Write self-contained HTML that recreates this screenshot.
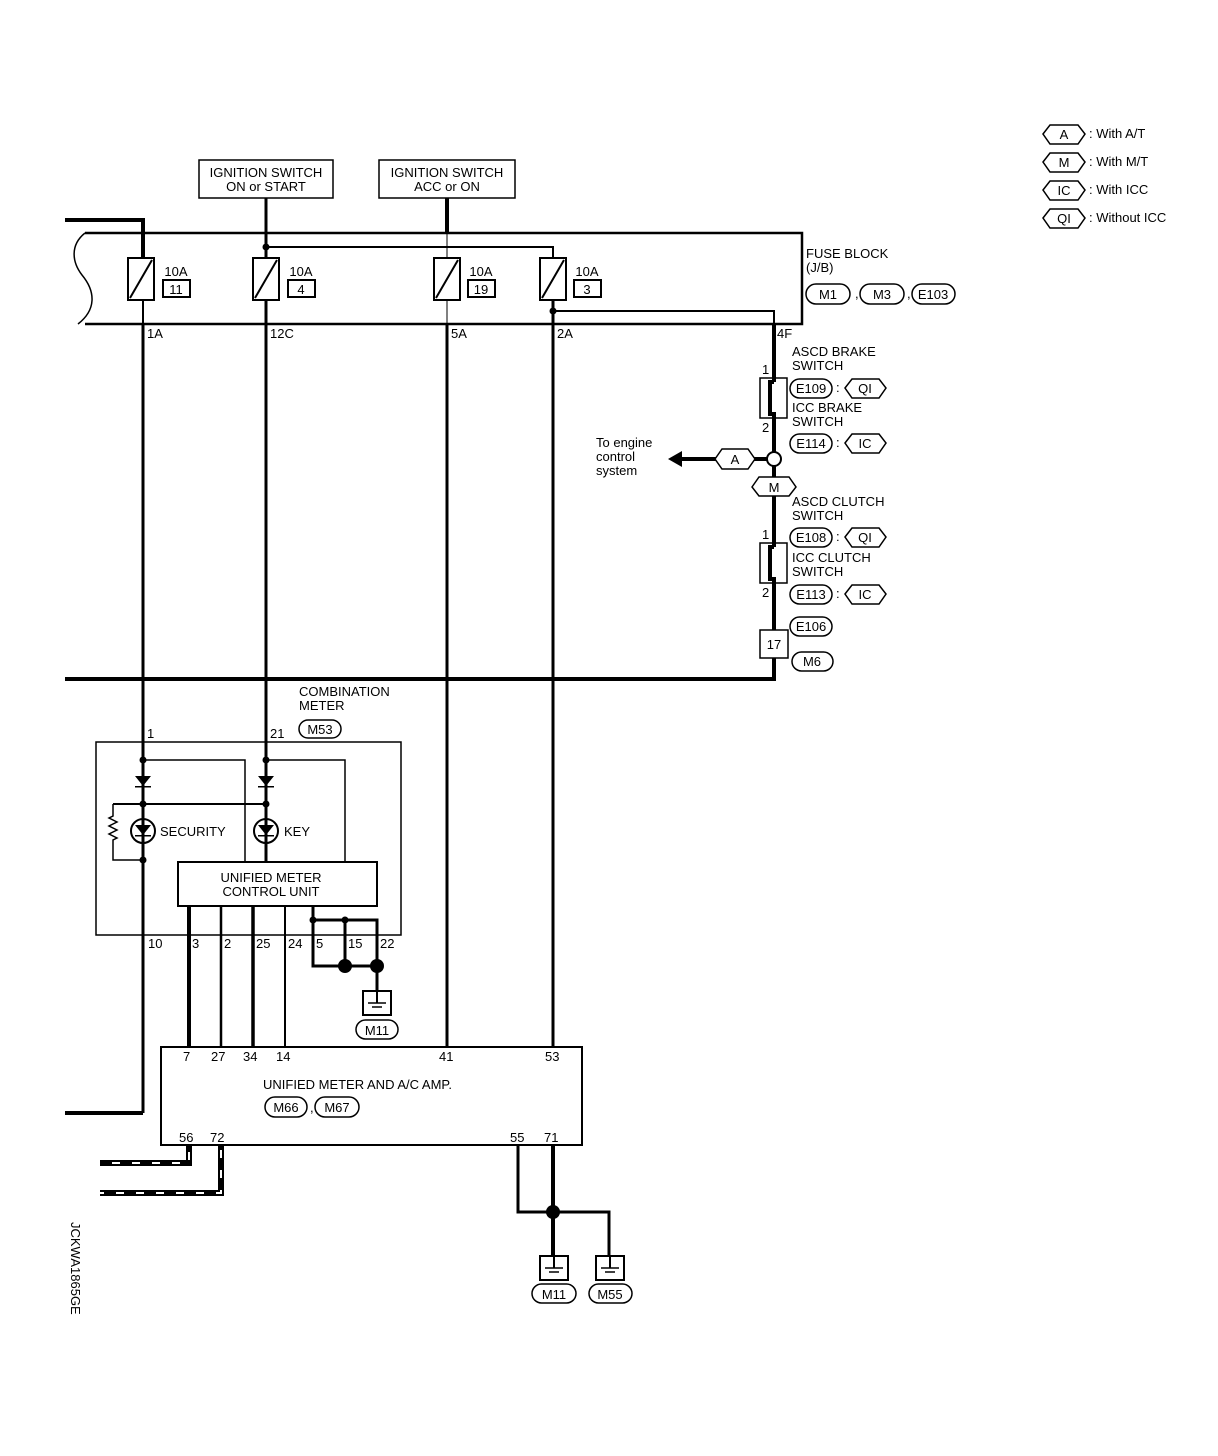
<!DOCTYPE html>
<html><head><meta charset="utf-8"><style>
html,body{margin:0;padding:0;background:#fff}
svg{display:block}
text{font-family:"Liberation Sans",sans-serif;font-size:13px;fill:#000}
</style></head><body>
<svg width="1218" height="1456" viewBox="0 0 1218 1456" xmlns="http://www.w3.org/2000/svg">
<defs>
<symbol id="gnd" viewBox="0 0 30 26"><rect x="1" y="1" width="28" height="24" fill="#fff" stroke="#000" stroke-width="2"/><line x1="15" y1="1" x2="15" y2="13" stroke="#000" stroke-width="2"/><line x1="6" y1="13" x2="24" y2="13" stroke="#000" stroke-width="1.5"/><line x1="10" y1="17" x2="20" y2="17" stroke="#000" stroke-width="1.5"/></symbol>
</defs>
<g fill="none" stroke="#000">
<!-- ignition boxes -->
<rect x="199" y="160" width="134" height="38" stroke-width="1.5"/>
<rect x="379" y="160" width="136" height="38" stroke-width="1.5"/>
<!-- fuse block -->
<path d="M85,233 H802 V324 H85" stroke-width="2.5"/>
<path d="M85,233 C70,245 72,262 82,275 C96,292 96,310 78,324" stroke-width="1.5"/>
<!-- wires top -->
<path d="M65,220 H143 V258" stroke-width="4"/>
<line x1="266" y1="198" x2="266" y2="258" stroke-width="3"/>
<path d="M266,247 H553 V258" stroke-width="2"/>
<line x1="447" y1="198" x2="447" y2="233" stroke-width="4"/>
<line x1="447" y1="233" x2="447" y2="258" stroke-width="1"/>
<line x1="447" y1="300" x2="447" y2="324" stroke-width="1"/>
<line x1="143" y1="300" x2="143" y2="324" stroke-width="2"/>
<line x1="266" y1="300" x2="266" y2="324" stroke-width="3"/>
<line x1="553" y1="300" x2="553" y2="324" stroke-width="3"/>
<path d="M553,311 H774 V324" stroke-width="2"/>
<!-- fuses -->
<g stroke-width="2">
<rect x="128" y="258" width="26" height="42"/><line x1="130" y1="298" x2="152" y2="260"/>
<rect x="253" y="258" width="26" height="42"/><line x1="255" y1="298" x2="277" y2="260"/>
<rect x="434" y="258" width="26" height="42"/><line x1="436" y1="298" x2="458" y2="260"/>
<rect x="540" y="258" width="26" height="42"/><line x1="542" y1="298" x2="564" y2="260"/>
<rect x="163" y="280" width="27" height="17"/><rect x="288" y="280" width="27" height="17"/>
<rect x="468" y="280" width="27" height="17"/><rect x="574" y="280" width="27" height="17"/>
</g>
<!-- long verticals -->
<line x1="143" y1="324" x2="143" y2="1113" stroke-width="3"/>
<path d="M143,1113 H65" stroke-width="4"/>
<line x1="266" y1="324" x2="266" y2="862" stroke-width="3"/>
<line x1="447" y1="324" x2="447" y2="1047" stroke-width="3"/>
<line x1="553" y1="324" x2="553" y2="1047" stroke-width="3"/>
<!-- right branch -->
<line x1="774" y1="324" x2="774" y2="630" stroke-width="4"/>
<path d="M774,658 V679 H65" stroke-width="4"/>
<rect x="760" y="378" width="27" height="40" fill="#fff" stroke-width="1.5"/>
<path d="M774,378 V382 M774,382 H770 V414 H774 V418" stroke-width="4"/>
<rect x="760" y="543" width="27" height="40" fill="#fff" stroke-width="1.5"/>
<path d="M774,543 V547 M774,547 H770 V579 H774 V583" stroke-width="4"/>
<rect x="760" y="630" width="28" height="28" fill="#fff" stroke-width="1.5"/>
<line x1="682" y1="459" x2="767" y2="459" stroke-width="4"/>
<circle cx="774" cy="459" r="7" fill="#fff" stroke-width="2"/>
<polygon points="715,459 722,449 748,449 755,459 748,469 722,469" fill="#fff" stroke-width="1.5"/>
<polygon points="752,487 759,477 789,477 796,487 789,496 759,496" fill="#fff" stroke-width="1.5"/>
<!-- combination meter -->
<rect x="96" y="742" width="305" height="193" stroke-width="1.5"/>
<path d="M143,760 H245 V862" stroke-width="1.5"/>
<path d="M266,760 H345 V862" stroke-width="1.5"/>
<path d="M113,804 H266" stroke-width="2"/>
<path d="M113,804 V816 L109,818 L117,822 L109,826 L117,830 L109,834 L117,838 L113,840 V860 H143" stroke-width="1.5"/>
<circle cx="143" cy="831" r="12" stroke-width="2"/>
<circle cx="266" cy="831" r="12" stroke-width="2"/>
<rect x="178" y="862" width="199" height="44" fill="#fff" stroke-width="2"/>
<line x1="189" y1="906" x2="189" y2="1047" stroke-width="4"/>
<line x1="221" y1="906" x2="221" y2="1047" stroke-width="2.5"/>
<line x1="253" y1="906" x2="253" y2="1047" stroke-width="3.5"/>
<line x1="285" y1="906" x2="285" y2="1047" stroke-width="2"/>
<path d="M313,906 V966 H377 M313,920 H377 V990 M345,920 V966" stroke-width="3"/>
<!-- amp -->
<rect x="161" y="1047" width="421" height="98" stroke-width="2"/>
<path d="M189,1145 V1163 H100" stroke="#000" stroke-width="6"/>
<path d="M221,1145 V1193 H100" stroke="#000" stroke-width="6"/>
<path d="M189,1152 V1163 H100" stroke="#fff" stroke-width="2" stroke-dasharray="8,12"/>
<path d="M221,1150 V1193 H100" stroke="#fff" stroke-width="2" stroke-dasharray="8,12"/>
<path d="M518,1145 V1212 H609 V1255" stroke-width="3"/>
<line x1="553" y1="1145" x2="553" y2="1255" stroke-width="4"/>
<!-- pills -->
<g stroke-width="1.5">
<rect x="806" y="284" width="44" height="20" rx="10"/><rect x="860" y="284" width="44" height="20" rx="10"/><rect x="912" y="284" width="43" height="20" rx="10"/>
<rect x="790" y="379" width="42" height="19" rx="9.5"/><rect x="790" y="434" width="42" height="19" rx="9.5"/>
<rect x="790" y="528" width="42" height="19" rx="9.5"/><rect x="790" y="585" width="42" height="19" rx="9.5"/>
<rect x="790" y="617" width="42" height="19" rx="9.5"/><rect x="792" y="652" width="41" height="19" rx="9.5"/>
<rect x="299" y="720" width="42" height="18" rx="9"/>
<rect x="356" y="1020" width="42" height="19" rx="9.5"/>
<rect x="265" y="1097" width="42" height="20" rx="10"/><rect x="315" y="1097" width="44" height="20" rx="10"/>
<rect x="532" y="1284" width="44" height="19" rx="9.5"/><rect x="589" y="1284" width="43" height="19" rx="9.5"/>
<polygon points="845,388 852,379 879,379 886,388 879,398 852,398"/>
<polygon points="845,443 852,434 879,434 886,443 879,453 852,453"/>
<polygon points="845,537 852,528 879,528 886,537 879,547 852,547"/>
<polygon points="845,594 852,585 879,585 886,594 879,604 852,604"/>
<polygon points="1043,134 1050,125 1078,125 1085,134 1078,144 1050,144"/>
<polygon points="1043,162 1050,153 1078,153 1085,162 1078,172 1050,172"/>
<polygon points="1043,190 1050,181 1078,181 1085,190 1078,200 1050,200"/>
<polygon points="1043,218 1050,209 1078,209 1085,218 1078,228 1050,228"/>
</g>
</g>
<!-- fills -->
<g fill="#000" stroke="none">
<circle cx="266" cy="247" r="3.5"/><circle cx="553" cy="311" r="3.5"/>
<circle cx="143" cy="760" r="3.5"/><circle cx="266" cy="760" r="3.5"/>
<circle cx="143" cy="804" r="3.5"/><circle cx="266" cy="804" r="3.5"/><circle cx="143" cy="860" r="3.5"/>
<circle cx="313" cy="920" r="3.5"/><circle cx="345" cy="920" r="3.5"/>
<circle cx="345" cy="966" r="7"/><circle cx="377" cy="966" r="7"/>
<circle cx="553" cy="1212" r="7"/>
<polygon points="668,459 682,451 682,467"/>
<polygon points="135,776 151,776 143,786"/><rect x="135" y="786" width="16" height="1.5"/>
<polygon points="258,776 274,776 266,786"/><rect x="258" y="786" width="16" height="1.5"/>
<polygon points="135,825 151,825 143,835"/><rect x="135" y="835" width="16" height="1.5"/>
<polygon points="258,825 274,825 266,835"/><rect x="258" y="835" width="16" height="1.5"/>
</g>
<line x1="143" y1="819" x2="143" y2="843" stroke="#000" stroke-width="2"/>
<line x1="266" y1="819" x2="266" y2="843" stroke="#000" stroke-width="2"/>
<use href="#gnd" x="362" y="990" width="30" height="26"/>
<use href="#gnd" x="539" y="1255" width="30" height="26"/>
<use href="#gnd" x="595" y="1255" width="30" height="26"/>
<!-- text -->
<g text-anchor="middle">
<text x="266" y="177">IGNITION SWITCH</text><text x="266" y="191">ON or START</text>
<text x="447" y="177">IGNITION SWITCH</text><text x="447" y="191">ACC or ON</text>
<text x="176" y="276">10A</text><text x="176" y="294">11</text>
<text x="301" y="276">10A</text><text x="301" y="294">4</text>
<text x="481" y="276">10A</text><text x="481" y="294">19</text>
<text x="587" y="276">10A</text><text x="587" y="294">3</text>
<text x="828" y="299">M1</text><text x="882" y="299">M3</text><text x="933" y="299">E103</text>
<text x="811" y="393">E109</text><text x="865" y="393">QI</text>
<text x="811" y="448">E114</text><text x="865" y="448">IC</text>
<text x="811" y="542">E108</text><text x="865" y="542">QI</text>
<text x="811" y="599">E113</text><text x="865" y="599">IC</text>
<text x="811" y="631">E106</text><text x="812" y="666">M6</text>
<text x="774" y="649">17</text>
<text x="735" y="464">A</text><text x="774" y="492">M</text>
<text x="320" y="734">M53</text>
<text x="271" y="882">UNIFIED METER</text><text x="271" y="896">CONTROL UNIT</text>
<text x="377" y="1035">M11</text>
<text x="286" y="1112">M66</text><text x="337" y="1112">M67</text>
<text x="554" y="1299">M11</text><text x="610" y="1299">M55</text>
<text x="1064" y="139">A</text><text x="1064" y="167">M</text><text x="1064" y="195">IC</text><text x="1064" y="223">QI</text>
</g>
<text x="855" y="298">,</text><text x="907" y="298">,</text><text x="310" y="1112">,</text>
<text x="836" y="392">:</text><text x="836" y="447">:</text><text x="836" y="541">:</text><text x="836" y="598">:</text>
<text x="806" y="258">FUSE BLOCK</text><text x="806" y="272">(J/B)</text>
<text x="147" y="338">1A</text><text x="270" y="338">12C</text><text x="451" y="338">5A</text><text x="557" y="338">2A</text><text x="777" y="338">4F</text>
<text x="792" y="356">ASCD BRAKE</text><text x="792" y="370">SWITCH</text>
<text x="792" y="412">ICC BRAKE</text><text x="792" y="426">SWITCH</text>
<text x="792" y="506">ASCD CLUTCH</text><text x="792" y="520">SWITCH</text>
<text x="792" y="562">ICC CLUTCH</text><text x="792" y="576">SWITCH</text>
<text x="762" y="374">1</text><text x="762" y="432">2</text><text x="762" y="539">1</text><text x="762" y="597">2</text>
<text x="596" y="447">To engine</text><text x="596" y="461">control</text><text x="596" y="475">system</text>
<text x="299" y="696">COMBINATION</text><text x="299" y="710">METER</text>
<text x="147" y="738">1</text><text x="270" y="738">21</text>
<text x="160" y="836">SECURITY</text><text x="284" y="836">KEY</text>
<text x="148" y="948">10</text><text x="192" y="948">3</text><text x="224" y="948">2</text><text x="256" y="948">25</text><text x="288" y="948">24</text><text x="316" y="948">5</text><text x="348" y="948">15</text><text x="380" y="948">22</text>
<text x="183" y="1061">7</text><text x="211" y="1061">27</text><text x="243" y="1061">34</text><text x="276" y="1061">14</text><text x="439" y="1061">41</text><text x="545" y="1061">53</text>
<text x="263" y="1089">UNIFIED METER AND A/C AMP.</text>
<text x="179" y="1142">56</text><text x="210" y="1142">72</text><text x="510" y="1142">55</text><text x="544" y="1142">71</text>
<text x="1089" y="138">: With A/T</text><text x="1089" y="166">: With M/T</text><text x="1089" y="194">: With ICC</text><text x="1089" y="222">: Without ICC</text>
<text transform="translate(71,1222) rotate(90)">JCKWA1865GE</text>
</svg>
</body></html>
